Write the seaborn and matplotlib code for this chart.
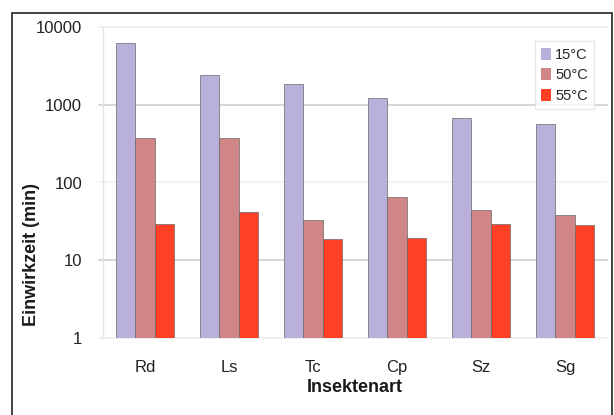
import matplotlib
matplotlib.use("Agg")
import matplotlib.pyplot as plt
import matplotlib.patches as mpatches
import seaborn as sns
import pandas as pd

# Exposure time needed per insect species at three temperatures
species = ["Rd", "Ls", "Tc", "Cp", "Sz", "Sg"]
temps = ["15°C", "50°C", "55°C"]
t15 = [6200, 2400, 1870, 1220, 670, 560]
t50 = [370, 370, 33, 66, 44, 38]
t55 = [29, 42, 19, 19.5, 29.5, 28.5]
colors = ["#B9B0DC", "#D08686", "#FF4024"]

df = pd.DataFrame({
    "Insektenart": species * 3,
    "Temperatur": [temps[0]] * 6 + [temps[1]] * 6 + [temps[2]] * 6,
    "Einwirkzeit": t15 + t50 + t55,
})

sns.set_theme(style="white")
plt.rcParams["font.family"] = ["Liberation Sans", "DejaVu Sans"]

fig = plt.figure(figsize=(6.14, 4.15), dpi=100)
ax = fig.add_axes([103 / 614, 1 - 338 / 415, 504 / 614, 311 / 415])

sns.barplot(data=df, x="Insektenart", y="Einwirkzeit", hue="Temperatur",
            hue_order=temps, palette=colors, width=0.69, gap=0,
            edgecolor="#6a6a6a", linewidth=0.5, saturation=1,
            ax=ax, legend=True)

ax.set_yscale("log")
ax.set_ylim(1, 10000)
ax.set_yticks([1, 10, 100, 1000, 10000])
ax.set_yticklabels(["1", "10", "100", "1000", "10000"])
ax.minorticks_off()

# horizontal guide lines at the decades
grid_levels = [1, 10, 100, 1000, 10000]
grid_colors = ["#eeeeee", "#d2d2d2", "#f3f3f3", "#d2d2d2", "#eeeeee"]
for lvl, gc in zip(grid_levels, grid_colors):
    ax.axhline(lvl, xmin=-0.008, color=gc, linewidth=1.3, zorder=0,
               clip_on=False)

for s in ["top", "right", "bottom"]:
    ax.spines[s].set_visible(False)
ax.spines["left"].set_color("#e4e4e4")
ax.spines["left"].set_linewidth(1)
ax.tick_params(axis="y", length=0, pad=15, labelsize=12, colors="#222222")
ax.tick_params(axis="x", length=0, pad=16, labelsize=12, colors="#222222")

ax.set_xlabel("Insektenart", fontsize=13, fontweight="bold", labelpad=3,
              color="#1a1a1a")
ax.set_ylabel("Einwirkzeit (min)", fontsize=13, fontweight="bold",
              color="#1a1a1a")
ax.yaxis.set_label_coords(-0.125, 0.27)

leg = ax.legend(loc="upper right", bbox_to_anchor=(0.975, 0.955), title=None,
                fontsize=10.5, frameon=True, handlelength=0.7,
                handleheight=0.9, handletextpad=0.25, labelspacing=0.45,
                borderpad=0.45, fancybox=False, borderaxespad=0)
leg.get_frame().set_edgecolor("#e0e0e0")
leg.get_frame().set_linewidth(1)
for h in leg.legend_handles:
    h.set_linewidth(0)

# outer frame around the chart
fig.patches.append(mpatches.Rectangle((12 / 614, -0.01), 600 / 614, 1 - 13 / 415 + 0.01,
                                      transform=fig.transFigure, fill=False,
                                      edgecolor="#222222", linewidth=1.2))

fig.savefig("out.png", dpi=100)
